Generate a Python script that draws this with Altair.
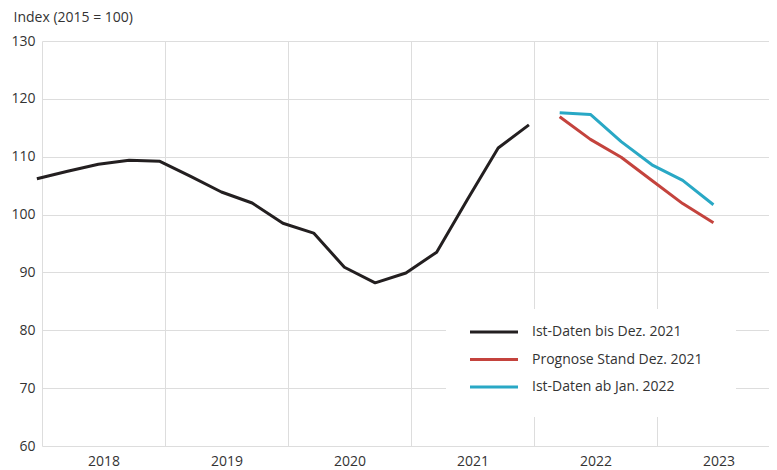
import altair as alt
import pandas as pd

# ---- data ----
black_quarters = ["2017-Q4", "2018-Q1", "2018-Q2", "2018-Q3", "2018-Q4",
                  "2019-Q1", "2019-Q2", "2019-Q3", "2019-Q4",
                  "2020-Q1", "2020-Q2", "2020-Q3", "2020-Q4",
                  "2021-Q1", "2021-Q2", "2021-Q3", "2021-Q4"]
black_values = [106.2, 107.5, 108.7, 109.4, 109.2,
                106.6, 103.9, 102.0, 98.5,
                96.8, 90.9, 88.2, 89.9,
                93.5, 102.6, 111.5, 115.5]
new_quarters = ["2022-Q1", "2022-Q2", "2022-Q3", "2022-Q4", "2023-Q1", "2023-Q2"]
red_values = [116.9, 113.0, 109.9, 105.9, 101.9, 98.6]
teal_values = [117.6, 117.3, 112.6, 108.6, 105.9, 101.7]

series_names = ["Ist-Daten bis Dez. 2021", "Prognose Stand Dez. 2021", "Ist-Daten ab Jan. 2022"]
series_colors = ["#231f20", "#c4433d", "#29a8c5"]
year_ticks = [2018, 2019, 2020, 2021, 2022, 2023]
y_ticks = [60, 70, 80, 90, 100, 110, 120, 130]
y_title = "Index (2015 = 100)"

FONT = "Open Sans"
TXT = "#333333"
FS = 14


def qpos(q):
    y, qq = q.split("-Q")
    # middle of the last month of the quarter
    return int(y) + int(qq) / 4 - 1 / 24


rows = []
for q, v in zip(black_quarters, black_values):
    rows.append({"x": qpos(q), "v": v, "s": series_names[0]})
for q, v in zip(new_quarters, red_values):
    rows.append({"x": qpos(q), "v": v, "s": series_names[1]})
for q, v in zip(new_quarters, teal_values):
    rows.append({"x": qpos(q), "v": v, "s": series_names[2]})
df = pd.DataFrame(rows)

W, H = 727, 405

lines = alt.Chart(df).mark_line(strokeWidth=3, strokeJoin="round").encode(
    x=alt.X("x:Q",
            scale=alt.Scale(domain=[2018, 2023.91], nice=False, zero=False),
            axis=alt.Axis(values=year_ticks, grid=True, gridColor="#dddddd",
                          domain=False, ticks=False, title=None,
                          labelExpr="datum.value", labelOffset=61.5,
                          labelFlush=False, labelOverlap=False,
                          labelFont=FONT, labelFontSize=FS, labelColor=TXT,
                          labelPadding=8)),
    y=alt.Y("v:Q",
            scale=alt.Scale(domain=[60, 130], nice=False, zero=False),
            axis=alt.Axis(values=y_ticks, grid=True, gridColor="#dddddd",
                          domain=False, ticks=False,
                          labelFont=FONT, labelFontSize=FS, labelColor=TXT,
                          labelPadding=7,
                          title=y_title, titleAngle=0, titleX=-29, titleY=-20,
                          titleAlign="left", titleBaseline="alphabetic",
                          titleFont=FONT, titleFontSize=FS, titleFontWeight="normal",
                          titleColor=TXT)),
    color=alt.Color("s:N", scale=alt.Scale(domain=series_names, range=series_colors),
                    legend=None),
    detail="s:N",
)

one = pd.DataFrame({"a": [0]})
legend_box = alt.Chart(one).mark_rect(color="white").encode(
    x=alt.value(404), x2=alt.value(694), y=alt.value(268), y2=alt.value(376)
)

layers = [lines, legend_box]
row_y = [291, 318.5, 346]
for name, col, yy in zip(series_names, series_colors, row_y):
    layers.append(alt.Chart(one).mark_rule(color=col, strokeWidth=3).encode(
        x=alt.value(428), x2=alt.value(476), y=alt.value(yy)))
    layers.append(alt.Chart(one).mark_text(
        text=name, align="left", baseline="middle", font=FONT, fontSize=FS, color=TXT
    ).encode(x=alt.value(490), y=alt.value(yy)))

chart = alt.layer(*layers).properties(
    width=W, height=H,
    autosize=alt.AutoSizeParams(type="none"),
    padding={"left": 34, "top": 33, "right": 0, "bottom": 24},
).configure_view(stroke=None)

chart.save("out.html", embed_options={"renderer": "svg", "actions": False})
